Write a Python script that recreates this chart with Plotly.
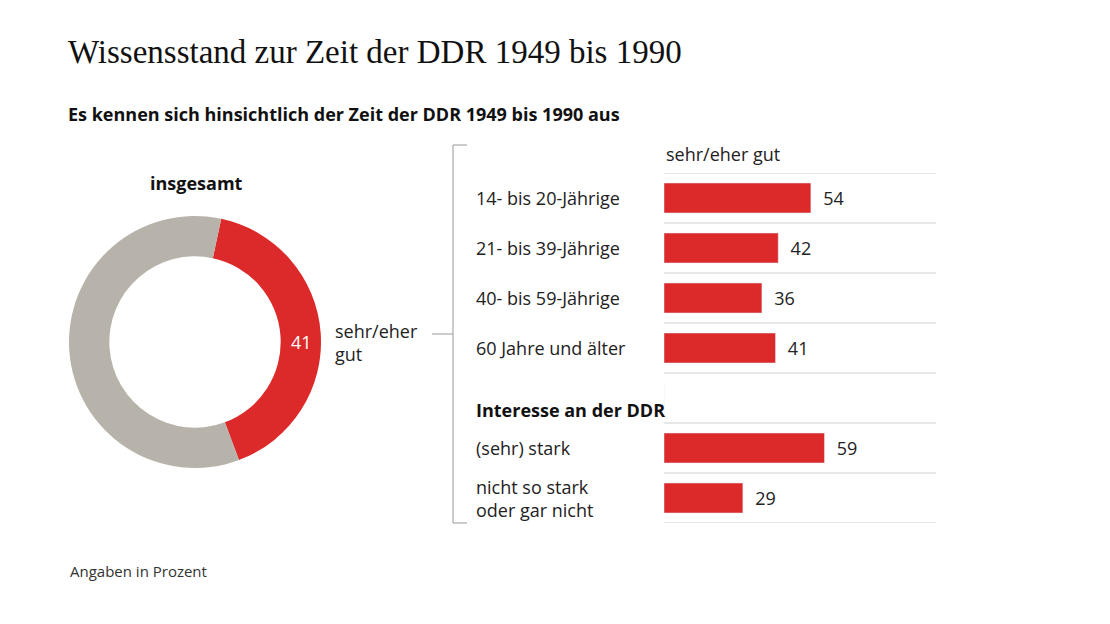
import plotly.graph_objects as go

W, H = 1110, 624
RED = "#dc2a2a"
GREY = "#b7b3aa"
FONT = "Open Sans"

# data
donut_labels = ["sehr/eher gut", "Rest"]
donut_values = [41, 59]

categories = ["14- bis 20-Jährige", "21- bis 39-Jährige", "40- bis 59-Jährige",
              "60 Jahre und älter", "header", "(sehr) stark",
              "nicht so stark<br>oder gar nicht"]
values = [54, 42, 36, 41, None, 59, 29]

OFF = 8  # page body margin


def px(x):
    return (x - OFF) / W


def py(y):
    return 1 - (y - OFF) / H


fig = go.Figure()

fig.add_trace(go.Pie(
    labels=donut_labels, values=donut_values, hole=0.68, sort=False,
    direction="clockwise", rotation=12, textinfo="none", hoverinfo="skip",
    marker=dict(colors=[RED, GREY]), showlegend=False,
    domain=dict(x=[px(69), px(321)], y=[py(468), py(216)])
))

bar_x = [v if v is not None else 0 for v in values]
fig.add_trace(go.Bar(
    x=bar_x, y=categories, orientation="h", marker_color=RED, width=0.6,
    text=["  " + str(v) if v is not None else "" for v in values],
    textposition="outside", textfont=dict(family=FONT, size=18, color="#222"),
    cliponaxis=False, showlegend=False, hoverinfo="skip"
))

fig.update_xaxes(domain=[px(664), px(936)], range=[0, 100], visible=False)
fig.update_yaxes(domain=[py(523), py(173)], range=[6.5, -0.5], visible=False,
                 type="category", categoryorder="array", categoryarray=categories)

shapes = []
for i in range(8):
    shapes.append(dict(type="line", xref="paper", yref="y", x0=px(664), x1=px(936),
                       y0=i - 0.5, y1=i - 0.5, line=dict(color="#d0d0d0", width=1)))
# bracket
line = dict(color="#999", width=1)
shapes += [
    dict(type="line", xref="paper", yref="paper", x0=px(453), x1=px(453), y0=py(145), y1=py(523), line=line),
    dict(type="line", xref="paper", yref="paper", x0=px(453), x1=px(467), y0=py(145), y1=py(145), line=line),
    dict(type="line", xref="paper", yref="paper", x0=px(453), x1=px(467), y0=py(523), y1=py(523), line=line),
    dict(type="line", xref="paper", yref="paper", x0=px(432), x1=px(453), y0=py(334), y1=py(334), line=line),
]

ann = [
    dict(text="Wissensstand zur Zeit der DDR 1949 bis 1990", x=px(66), y=py(52),
         font=dict(family="Liberation Serif", size=33, color="#111")),
    dict(text="<b>Es kennen sich hinsichtlich der Zeit der DDR 1949 bis 1990 aus</b>", x=px(66), y=py(114),
         font=dict(family=FONT, size=18, color="#111")),
    dict(text="<b>insgesamt</b>", x=px(148), y=py(183), font=dict(family=FONT, size=18, color="#111")),
    dict(text="sehr/eher<br>gut", x=px(333), y=py(342), font=dict(family=FONT, size=18, color="#222")),
    dict(text="41", x=px(289), y=py(342), font=dict(family=FONT, size=18, color="white")),
    dict(text="sehr/eher gut", x=px(664), y=py(154), font=dict(family=FONT, size=18, color="#222")),
    dict(text="<b>Interesse an der DDR</b>", x=px(474), y=py(410), font=dict(family=FONT, size=18, color="#111")),
    dict(text="Angaben in Prozent", x=px(68), y=py(571), font=dict(family=FONT, size=15, color="#333")),
]
for c in categories:
    if c == "header":
        continue
    ann.append(dict(text=c, x=px(474), xref="paper", yref="y", y=c,
                    font=dict(family=FONT, size=18, color="#222")))
for a in ann:
    a.setdefault("xref", "paper")
    a.setdefault("yref", "paper")
    a.update(xanchor="left", yanchor="middle", showarrow=False, align="left")

fig.update_layout(
    width=W, height=H, margin=dict(l=0, r=0, t=0, b=0),
    paper_bgcolor="white", plot_bgcolor="white",
    shapes=shapes, annotations=ann, bargap=0.4
)

fig.write_html("out.html")
